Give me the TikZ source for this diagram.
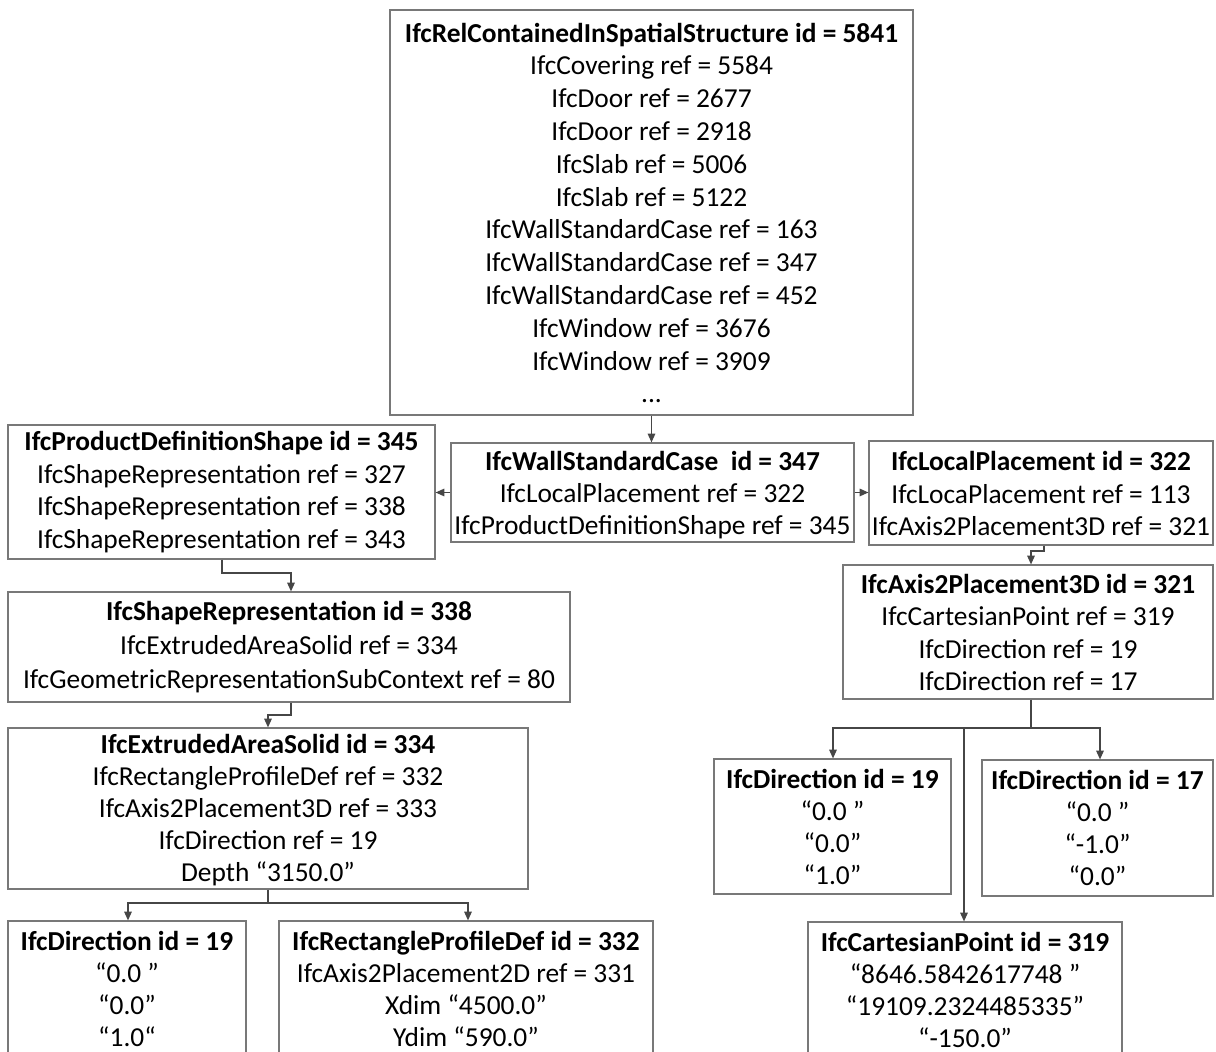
\documentclass[tikz,border=0pt]{standalone}
\usepackage{fontspec}
\setmainfont{Carlito}
\usetikzlibrary{arrows.meta,fit,calc}
\definecolor{boxline}{RGB}{120,120,120}
\definecolor{connline}{RGB}{70,70,70}
\tikzset{
  ifcbox/.style={draw=boxline, line width=0.6pt, inner sep=0pt},
  ifctext/.style={inner sep=0pt, align=center,
    font=\fontsize{13.7pt}{16.3pt}\selectfont, text=black},
  conn/.style={draw=connline, line width=0.6pt},
  connarrow/.style={conn, -{Triangle[length=4.4pt,width=3.8pt]}}
}
\begin{document}
\begin{tikzpicture}[x=0.5pt,y=-0.5pt]
\useasboundingbox (0,0) rectangle (1216,1052);
\fill[white] (0,0) rectangle (1216,1052);

% boxes
\node[ifcbox, fit={(390,10) (913,415)}] (top) {};
\node[ifcbox, fit={(451,443) (854,542)}] (wsc) {};
\node[ifcbox, fit={(8,425) (435,559)}] (pds) {};
\node[ifcbox, fit={(869,441) (1213,545)}] (lp) {};
\node[ifcbox, fit={(843,565) (1213,699)}] (a3d) {};
\node[ifcbox, fit={(8,592) (570,702)}] (sr) {};
\node[ifcbox, fit={(8,728) (528,889)}] (eas) {};
\node[ifcbox, fit={(8,921) (246,1056)}] (dirL) {};
\node[ifcbox, fit={(279,921) (653,1056)}] (rpd) {};
\node[ifcbox, fit={(714,759) (951,894)}] (dirR) {};
\node[ifcbox, fit={(982,760) (1213,896)}] (dir17) {};
\node[ifcbox, fit={(808,922) (1122,1057)}] (cp) {};

% texts
\node[ifctext, font=\fontsize{13.7pt}{16.4pt}\selectfont] (topT) at ($(top.center)+(0,0.5)$) {\textbf{IfcRelContainedInSpatialStructure id = 5841}\\
IfcCovering ref = 5584\\
IfcDoor ref = 2677\\
IfcDoor ref = 2918\\
IfcSlab ref = 5006\\
IfcSlab ref = 5122\\
IfcWallStandardCase ref = 163\\
IfcWallStandardCase ref = 347\\
IfcWallStandardCase ref = 452\\
IfcWindow ref = 3676\\
IfcWindow ref = 3909\\
...};

\node[ifctext, font=\fontsize{13.7pt}{15.8pt}\selectfont] (wscT) at ($(wsc.center)+(0,2.5)$) {\textbf{IfcWallStandardCase~ id = 347}\\
IfcLocalPlacement ref = 322\\
IfcProductDefinitionShape ref = 345};

\node[ifctext] (pdsT) at (pds.center) {\textbf{IfcProductDefinitionShape id = 345}\\
IfcShapeRepresentation ref = 327\\
IfcShapeRepresentation ref = 338\\
IfcShapeRepresentation ref = 343};

\node[ifctext] (lpT) at ($(lp.center)+(0,0.5)$) {\textbf{IfcLocalPlacement id = 322}\\
IfcLocaPlacement ref = 113\\
IfcAxis2Placement3D ref = 321};

\node[ifctext] (a3dT) at ($(a3d.center)+(0,0.5)$) {\textbf{IfcAxis2Placement3D id = 321}\\
IfcCartesianPoint ref = 319\\
IfcDirection ref = 19\\
IfcDirection ref = 17};

\node[ifctext, font=\fontsize{13.7pt}{17pt}\selectfont] (srT) at ($(sr.center)+(0,0.5)$) {\textbf{IfcShapeRepresentation id = 338}\\
IfcExtrudedAreaSolid ref = 334\\
IfcGeometricRepresentationSubContext ref = 80};

\node[ifctext, font=\fontsize{13.7pt}{16.1pt}\selectfont] (easT) at ($(eas.center)+(0,1.5)$) {\textbf{IfcExtrudedAreaSolid id = 334}\\
IfcRectangleProfileDef ref = 332\\
IfcAxis2Placement3D ref = 333\\
IfcDirection ref = 19\\
Depth “3150.0”};

\node[ifctext, font=\fontsize{13.7pt}{16pt}\selectfont] (dirLT) at (dirL.center) {\textbf{IfcDirection id = 19}\\
“0.0 ”\\
“0.0”\\
“1.0“};

\node[ifctext, font=\fontsize{13.7pt}{16pt}\selectfont] (rpdT) at (rpd.center) {\textbf{IfcRectangleProfileDef id = 332}\\
IfcAxis2Placement2D ref = 331\\
Xdim “4500.0”\\
Ydim “590.0”};

\node[ifctext, font=\fontsize{13.7pt}{16pt}\selectfont] (dirRT) at (dirR.center) {\textbf{IfcDirection id = 19}\\
“0.0 ”\\
“0.0”\\
“1.0”};

\node[ifctext, font=\fontsize{13.7pt}{16pt}\selectfont] (dir17T) at (dir17.center) {\textbf{IfcDirection id = 17}\\
“0.0 ”\\
“-1.0”\\
“0.0”};

\node[ifctext, font=\fontsize{13.7pt}{16pt}\selectfont] (cpT) at (cp.center) {\textbf{IfcCartesianPoint id = 319}\\
“8646.5842617748 ”\\
“19109.2324485335”\\
“-150.0”};

% bend points
\coordinate (b1) at (1044,551);
\coordinate (b2) at (1031,551);
\coordinate (p1) at (222,573);
\coordinate (p2) at (291,573);
\coordinate (s1) at (291,715);
\coordinate (s2) at (268,715);
\coordinate (e1) at (268,903);
\coordinate (eL) at (128,903);
\coordinate (eR) at (468,903);
\coordinate (a1) at (1031,728);
\coordinate (aL) at (833,728);
\coordinate (aR) at (1100,728);
\coordinate (aM) at (964,728);

% connectors
\draw[connarrow] (top.south) -- (top.south |- wsc.north);
\draw[connarrow] (wsc.west) -- (pds.east |- wsc.west);
\draw[connarrow] (wsc.east) -- (lp.west |- wsc.east);
\draw[connarrow] (lp.south -| b1) -- (b1) -- (b2) -- (a3d.north -| b2);
\draw[connarrow] (pds.south -| p1) -- (p1) -- (p2) -- (sr.north -| p2);
\draw[connarrow] (sr.south -| s1) -- (s1) -- (s2) -- (eas.north -| s2);
\draw[conn] (eas.south -| e1) -- (e1);
\draw[connarrow] (e1) -- (eL) -- (dirL.north -| eL);
\draw[connarrow] (e1) -- (eR) -- (rpd.north -| eR);
\draw[conn] (a3d.south -| a1) -- (a1);
\draw[connarrow] (a1) -- (aL) -- (dirR.north -| aL);
\draw[connarrow] (a1) -- (aR) -- (dir17.north -| aR);
\draw[connarrow] (aM) -- (cp.north -| aM);
\end{tikzpicture}
\end{document}
